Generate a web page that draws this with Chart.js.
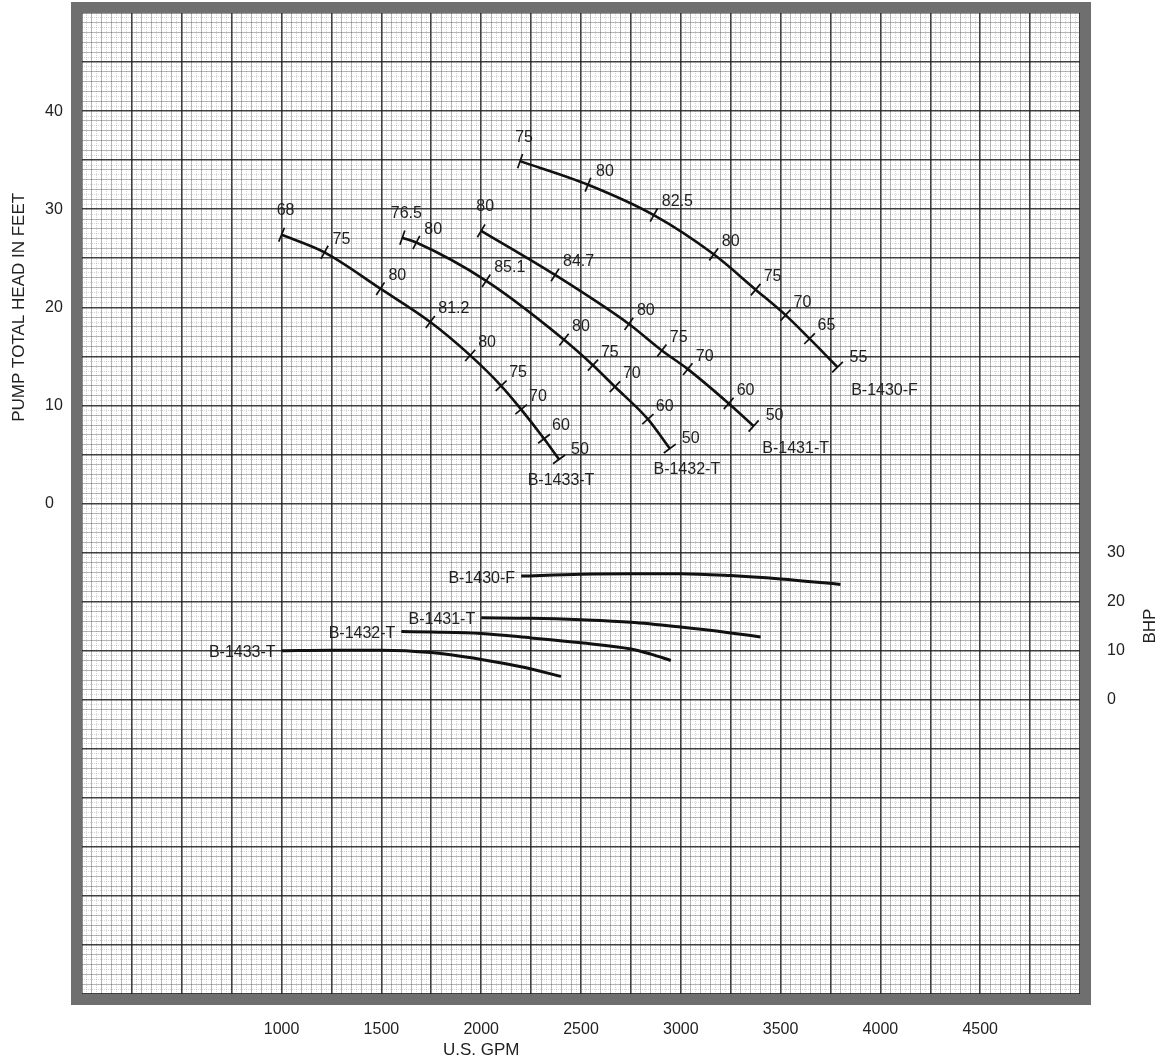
<!DOCTYPE html>
<html>
<head>
<meta charset="utf-8">
<title>Curvas de bombas</title>
<script src="https://cdn.jsdelivr.net/npm/chart.js@4.4.1/dist/chart.umd.min.js"></script>
<style>
  html, body { margin: 0; padding: 0; background: #fff; }
  canvas { display: block; }
</style>
</head>
<body>
<canvas id="bombas" width="1163" height="1063"></canvas>
<script>
// Curvas de altura (GPM, pies) con la eficiencia en cada marca
const gpm1433 = [1000, 1215, 1495, 1745, 1945, 2100, 2200, 2315, 2390];
const head1433 = [27.4, 25.6, 21.9, 18.5, 15.1, 12.0, 9.6, 6.6, 4.5];
const eff1433 = ['68', '75', '80', '81.2', '80', '75', '70', '60', '50'];

const gpm1432 = [1605, 1675, 2025, 2415, 2560, 2670, 2835, 2945];
const head1432 = [27.1, 26.6, 22.7, 16.7, 14.1, 11.9, 8.6, 5.6];
const eff1432 = ['76.5', '80', '85.1', '80', '75', '70', '60', '50'];

const gpm1431 = [2000, 2370, 2740, 2905, 3035, 3240, 3365];
const head1431 = [27.8, 23.3, 18.3, 15.6, 13.7, 10.2, 7.9];
const eff1431 = ['80', '84.7', '80', '75', '70', '60', '50'];

const gpm1430 = [2195, 2535, 2865, 3165, 3375, 3525, 3645, 3785];
const head1430 = [34.9, 32.5, 29.4, 25.4, 21.8, 19.2, 16.8, 13.9];
const eff1430 = ['75', '80', '82.5', '80', '75', '70', '65', '55'];

// Curvas de potencia (GPM, BHP)
const bhpGpm1433 = [1000, 1250, 1500, 1750, 2000, 2200, 2400];
const bhp1433 = [10.0, 10.1, 10.1, 9.6, 8.2, 6.7, 4.75];
const bhpGpm1432 = [1600, 1750, 2000, 2250, 2500, 2750, 2850, 2950];
const bhp1432 = [13.9, 13.8, 13.5, 12.6, 11.6, 10.35, 9.3, 8.0];
const bhpGpm1431 = [2000, 2250, 2500, 2750, 3000, 3250, 3400];
const bhp1431 = [16.7, 16.6, 16.3, 15.8, 14.8, 13.6, 12.8];
const bhpGpm1430 = [2200, 2500, 2750, 3000, 3250, 3500, 3800];
const bhp1430 = [25.2, 25.6, 25.7, 25.7, 25.3, 24.6, 23.5];

// Etiquetas de los ejes
const gpmTicks = [1000, 1500, 2000, 2500, 3000, 3500, 4000, 4500];
const headTicks = [0, 10, 20, 30, 40];
const bhpTicks = [0, 10, 20, 30];

const familia = '"Liberation Sans", Arial, sans-serif';
const fuente = '16px ' + familia;
const fuenteTitulo = '17px ' + familia;

function puntos(xs, ys) {
    return xs.map((x, i) => ({ x: x, y: ys[i] }));
}

// Marca perpendicular a la curva en cada punto
function rotacionMarca(ctx) {
    const d = ctx.dataset.data;
    const i = ctx.dataIndex;
    const a = d[Math.max(i - 1, 0)];
    const b = d[Math.min(i + 1, d.length - 1)];
    const sx = ctx.chart.scales.x, sy = ctx.chart.scales.y;
    const dx = sx.getPixelForValue(b.x) - sx.getPixelForValue(a.x);
    const dy = sy.getPixelForValue(b.y) - sy.getPixelForValue(a.y);
    return Math.atan2(dy, dx) * 180 / Math.PI + 90;
}

function curvaAltura(nombre, xs, ys, effs, offset) {
    return {
        label: nombre,
        data: puntos(xs, ys),
        yAxisID: 'y',
        effLabels: effs,
        nameOffset: offset,
        borderColor: '#111',
        borderWidth: 2.6,
        cubicInterpolationMode: 'monotone',
        pointStyle: 'line',
        pointRadius: 7.5,
        pointBorderWidth: 1.7,
        pointBorderColor: '#111',
        pointRotation: rotacionMarca
    };
}

function curvaPotencia(nombre, xs, ys) {
    return {
        label: nombre,
        data: puntos(xs, ys),
        yAxisID: 'y2',
        borderColor: '#111',
        borderWidth: 3,
        cubicInterpolationMode: 'monotone',
        pointRadius: 0
    };
}

// Papel milimetrado: fina, media y gruesa
function colorRejilla(media, gruesa) {
    return ctx => {
        const v = ctx.tick.value;
        if (Math.abs(v % gruesa) < 1e-6) return 'rgba(30,30,30,0.85)';
        if (Math.abs(v % media) < 1e-6) return 'rgba(70,70,70,0.4)';
        return 'rgba(110,110,110,0.28)';
    };
}
function anchoRejilla(gruesa) {
    return ctx => Math.abs(ctx.tick.value % gruesa) < 1e-6 ? 1.6 : 1;
}
function trazoRejilla(media) {
    return ctx => {
        if (!ctx.tick) return [];
        return Math.abs(ctx.tick.value % media) < 1e-6 ? [] : [1, 1];
    };
}

const marcasPlugin = {
    id: 'marcas',
    afterDatasetsDraw(chart) {
        const ctx = chart.ctx;
        ctx.save();
        ctx.font = fuente;
        ctx.fillStyle = '#222';
        chart.data.datasets.forEach((ds, i) => {
            const pts = chart.getDatasetMeta(i).data;
            if (ds.effLabels) {
                pts.forEach((p, j) => {
                    if (j === 0) {
                        ctx.textAlign = 'center';
                        ctx.textBaseline = 'middle';
                        ctx.fillText(ds.effLabels[j], p.x + 4, p.y - 24);
                    } else if (j === pts.length - 1) {
                        ctx.textAlign = 'left';
                        ctx.textBaseline = 'middle';
                        ctx.fillText(ds.effLabels[j], p.x + 12, p.y - 10);
                    } else {
                        ctx.textAlign = 'left';
                        ctx.textBaseline = 'bottom';
                        ctx.fillText(ds.effLabels[j], p.x + 8, p.y - 5);
                    }
                });
                const last = pts[pts.length - 1];
                ctx.textAlign = 'center';
                ctx.textBaseline = 'middle';
                ctx.fillText(ds.label, last.x + ds.nameOffset[0], last.y + ds.nameOffset[1]);
            } else {
                const first = pts[0];
                ctx.textAlign = 'right';
                ctx.textBaseline = 'middle';
                ctx.fillText(ds.label, first.x - 6, first.y + 2);
            }
        });
        ctx.restore();
    },
    afterDraw(chart) {
        const ctx = chart.ctx;
        const a = chart.chartArea;
        ctx.save();
        // borde grueso del papel
        ctx.strokeStyle = '#6f6f6f';
        ctx.lineWidth = 11;
        ctx.strokeRect(a.left - 5.5, a.top - 5.5, a.right - a.left + 11, a.bottom - a.top + 11);
        // titulos de los ejes
        ctx.font = fuenteTitulo;
        ctx.fillStyle = '#222';
        ctx.textAlign = 'center';
        ctx.textBaseline = 'middle';
        ctx.fillText('U.S. GPM', chart.scales.x.getPixelForValue(2000), 1050);
        ctx.save();
        ctx.translate(19, chart.scales.y.getPixelForValue(20));
        ctx.rotate(-Math.PI / 2);
        ctx.fillText('PUMP TOTAL HEAD IN FEET', 0, 0);
        ctx.restore();
        ctx.save();
        ctx.translate(1150, chart.scales.y2.getPixelForValue(15));
        ctx.rotate(-Math.PI / 2);
        ctx.fillText('BHP', 0, 0);
        ctx.restore();
        ctx.restore();
    }
};

const ctxBombas = document.getElementById('bombas').getContext('2d');
new Chart(ctxBombas, {
    type: 'line',
    data: {
        datasets: [
            curvaAltura('B-1433-T', gpm1433, head1433, eff1433, [2, 21]),
            curvaAltura('B-1432-T', gpm1432, head1432, eff1432, [17, 21]),
            curvaAltura('B-1431-T', gpm1431, head1431, eff1431, [42, 23]),
            curvaAltura('B-1430-F', gpm1430, head1430, eff1430, [47, 23]),
            curvaPotencia('B-1430-F', bhpGpm1430, bhp1430),
            curvaPotencia('B-1431-T', bhpGpm1431, bhp1431),
            curvaPotencia('B-1432-T', bhpGpm1432, bhp1432),
            curvaPotencia('B-1433-T', bhpGpm1433, bhp1433)
        ]
    },
    options: {
        responsive: false,
        animation: false,
        layout: { padding: { left: 45, top: 13, right: 0, bottom: 0 } },
        plugins: {
            legend: { display: false },
            tooltip: { enabled: false }
        },
        scales: {
            x: {
                type: 'linear',
                min: 0,
                max: 5000,
                afterFit: s => { s.height = 69; },
                border: { display: false, dash: trazoRejilla(50) },
                grid: {
                    drawTicks: false,
                    color: colorRejilla(50, 250),
                    lineWidth: anchoRejilla(250)
                },
                ticks: {
                    stepSize: 25,
                    autoSkip: false,
                    maxRotation: 0,
                    padding: 26,
                    color: '#222',
                    font: { family: familia, size: 16 },
                    callback: v => gpmTicks.includes(v) ? String(v) : ''
                }
            },
            y: {
                type: 'linear',
                position: 'left',
                min: -50,
                max: 50,
                afterFit: s => { s.width = 37; },
                border: { display: false, dash: trazoRejilla(1) },
                grid: {
                    drawTicks: false,
                    color: colorRejilla(1, 5),
                    lineWidth: anchoRejilla(5)
                },
                ticks: {
                    stepSize: 0.5,
                    autoSkip: false,
                    crossAlign: 'far',
                    color: '#222',
                    font: { family: familia, size: 16 },
                    callback: v => headTicks.includes(v) ? String(v) : ''
                }
            },
            y2: {
                type: 'linear',
                position: 'right',
                min: -60,
                max: 140,
                afterFit: s => { s.width = 83; },
                border: { display: false },
                grid: {
                    drawOnChartArea: false,
                    drawTicks: true,
                    tickLength: 24,
                    tickColor: 'rgba(0,0,0,0)'
                },
                ticks: {
                    stepSize: 10,
                    autoSkip: false,
                    padding: 3,
                    color: '#222',
                    font: { family: familia, size: 16 },
                    callback: v => bhpTicks.includes(v) ? String(v) : ''
                }
            }
        }
    },
    plugins: [marcasPlugin]
});
</script>
</body>
</html>
